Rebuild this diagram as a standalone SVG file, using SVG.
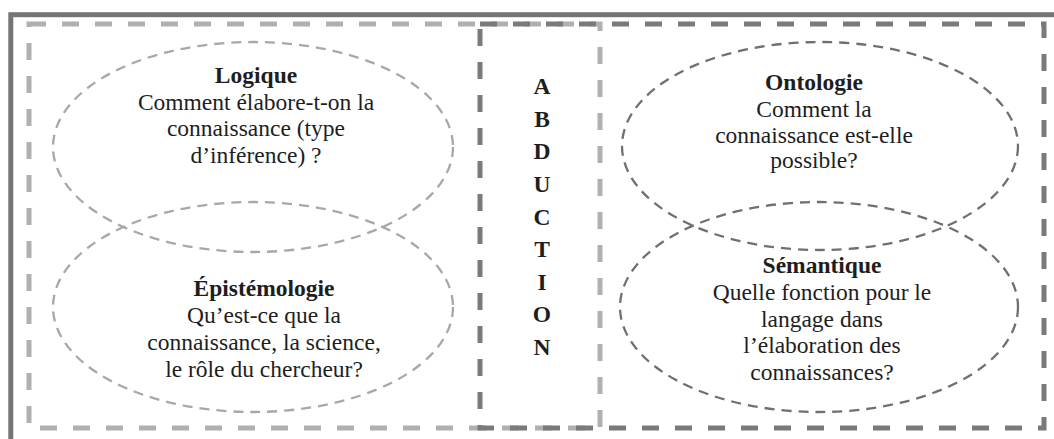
<svg xmlns="http://www.w3.org/2000/svg" width="1054" height="439" viewBox="0 0 1054 439">
<style>
.frame{fill:none;stroke:#757575;stroke-width:5}
.boxL{fill:none;stroke:#b0b0b0;stroke-width:5;stroke-dasharray:17 16}
.boxR{fill:none;stroke:#7a7a7a;stroke-width:5;stroke-dasharray:17 16}
.ellL{fill:none;stroke:#a8a8a8;stroke-width:2.3;stroke-dasharray:10 7}
.ellR{fill:none;stroke:#707070;stroke-width:2.3;stroke-dasharray:10 7}
text{font-family:"Liberation Serif","Times New Roman",serif;font-size:23.5px;fill:#1e1e1e;text-anchor:middle}
.b{font-weight:bold}
</style>
<rect width="1054" height="439" fill="#ffffff"/>
<g id="frame">
<rect class="frame" x="10.8" y="14.7" width="1080" height="460"/>
</g>
<g id="connectors">
<rect class="boxL" x="29" y="24" width="571" height="404"/>
<rect class="boxR" x="480" y="24" width="564" height="404"/>
</g>
<g id="logique">
<ellipse class="ellL" cx="253" cy="147" rx="200" ry="105"/>
<text x="256" y="83" class="b">Logique</text>
<text x="256" y="110">Comment élabore-t-on la</text>
<text x="256" y="136">connaissance (type</text>
<text x="256" y="163">d’inférence) ?</text>
</g>
<g id="epistemologie">
<ellipse class="ellL" cx="253" cy="307" rx="200" ry="105"/>
<text x="264" y="296" class="b">Épistémologie</text>
<text x="264" y="323">Qu’est-ce que la</text>
<text x="264" y="350">connaissance, la science,</text>
<text x="264" y="377">le rôle du chercheur?</text>
</g>
<g id="abduction">
<text x="542" y="94" class="b">A</text>
<text x="542" y="127" class="b">B</text>
<text x="542" y="159" class="b">D</text>
<text x="542" y="192" class="b">U</text>
<text x="542" y="225" class="b">C</text>
<text x="542" y="257" class="b">T</text>
<text x="542" y="290" class="b">I</text>
<text x="542" y="322" class="b">O</text>
<text x="542" y="355" class="b">N</text>
</g>
<g id="ontologie">
<ellipse class="ellR" cx="820" cy="146" rx="198" ry="104"/>
<text x="814" y="90" class="b">Ontologie</text>
<text x="814" y="117">Comment la</text>
<text x="814" y="143">connaissance  est-elle</text>
<text x="814" y="168">possible?</text>
</g>
<g id="semantique">
<ellipse class="ellR" cx="819" cy="307" rx="199" ry="105"/>
<text x="822" y="273" class="b">Sémantique</text>
<text x="822" y="300">Quelle fonction pour le</text>
<text x="822" y="327">langage dans</text>
<text x="822" y="353">l’élaboration des</text>
<text x="822" y="380">connaissances?</text>
</g>
</svg>
